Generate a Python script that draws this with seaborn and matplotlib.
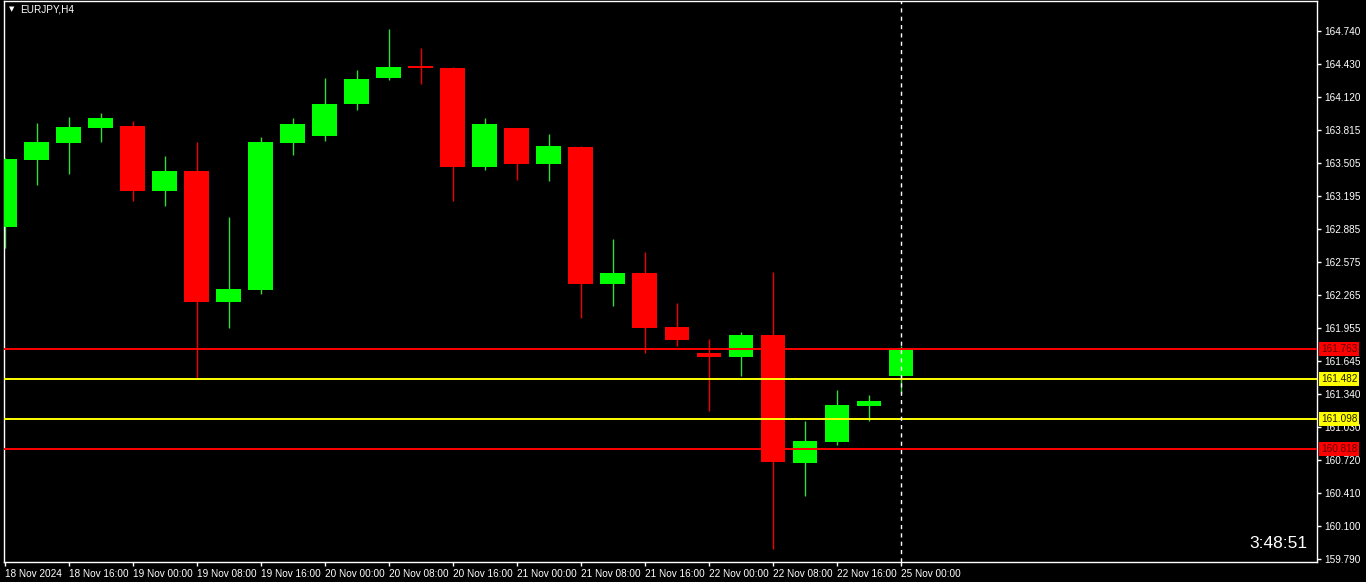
import matplotlib
matplotlib.use("Agg")
import matplotlib.pyplot as plt
import matplotlib.transforms as mtransforms
import seaborn as sns
import numpy as np
import pandas as pd

# EURJPY H4 candles, 18 Nov 08:00 .. 25 Nov 00:00
opens = [162.905, 163.531, 163.690, 163.831, 163.849, 163.243, 163.428, 162.202,
         162.312, 163.690, 163.756, 164.056, 164.299, 164.410, 164.393, 163.468,
         163.831, 163.496, 163.653, 162.371, 162.471, 161.965, 161.721, 161.684,
         161.890, 160.690, 160.887, 161.225, 161.506]
highs = [163.550, 163.878, 163.934, 163.971, 163.896, 163.568, 163.699, 162.996,
         163.746, 163.924, 164.299, 164.374, 164.759, 164.581, 164.400, 163.924,
         163.835, 163.774, 163.662, 162.790, 162.668, 162.190, 161.853, 161.918,
         162.481, 161.087, 161.374, 161.328, 161.787]
lows = [162.709, 163.296, 163.402, 163.699, 163.149, 163.102, 161.480, 161.959,
        162.277, 163.578, 163.709, 163.999, 164.281, 164.243, 163.146, 163.440,
        163.346, 163.337, 162.052, 162.165, 161.724, 161.790, 161.178, 161.506,
        159.884, 160.381, 160.859, 161.084, 161.346]
closes = [163.540, 163.699, 163.840, 163.924, 163.243, 163.428, 162.202, 162.321,
          163.699, 163.868, 164.056, 164.290, 164.403, 164.395, 163.468, 163.868,
          163.496, 163.662, 162.371, 162.471, 161.959, 161.846, 161.684, 161.890,
          160.699, 160.896, 161.234, 161.271, 161.759]

time_labels = ["18 Nov 2024", "18 Nov 16:00", "19 Nov 00:00", "19 Nov 08:00",
               "19 Nov 16:00", "20 Nov 00:00", "20 Nov 08:00", "20 Nov 16:00",
               "21 Nov 00:00", "21 Nov 08:00", "21 Nov 16:00", "22 Nov 00:00",
               "22 Nov 08:00", "22 Nov 16:00", "25 Nov 00:00"]

price_ticks = [164.740, 164.430, 164.120, 163.815, 163.505, 163.195, 162.885,
               162.575, 162.265, 161.955, 161.645, 161.340, 161.030, 160.720,
               160.410, 160.100, 159.790]

level_prices = [161.763, 161.482, 161.098, 160.818]
level_colors = ["#ff0000", "#ffff00", "#ffff00", "#ff0000"]
level_text = ["#600000", "#202000", "#202000", "#600000"]

sns.set_theme(style="dark", rc={"axes.facecolor": "black",
                                "figure.facecolor": "black",
                                "axes.edgecolor": "white",
                                "axes.grid": False})
plt.rcParams['font.family'] = ['Liberation Sans', 'DejaVu Sans']

fig = plt.figure(figsize=(13.66, 5.82), dpi=100)
ax = fig.add_axes([4 / 1366, 20 / 582, 1313 / 1366, 561 / 582])

df = pd.DataFrame({"o": opens, "h": highs, "l": lows, "c": closes})
df["up"] = df.c >= df.o
colors = np.where(df.up, "#00ff00", "#ff0000")
wick_colors = np.where(df.up, "#30dd30", "#ee0000")
body_low = np.minimum(df.o, df.c)
body_h = np.maximum((df.c - df.o).abs(), 0.012)

ax.vlines(df.index, df.l, df.h, colors=wick_colors, linewidth=1.0, zorder=2)
ax.bar(df.index, body_h, bottom=body_low, width=0.78, color=colors,
       linewidth=0, zorder=3)

# support / resistance levels
trans = mtransforms.blended_transform_factory(ax.transAxes, ax.transData)
for p, col, tc in zip(level_prices, level_colors, level_text):
    ax.axhline(p, color=col, linewidth=1.4, zorder=4)
    ax.text(1.003, p, f"{p:.3f}", transform=trans, color=tc, fontsize=7.2,
            va="center", ha="left", clip_on=False, zorder=10,
            bbox=dict(boxstyle="square,pad=0.2", fc=col, ec="none"))

# current bar marker
ax.axvline(len(df) - 1, color="white", linewidth=1, linestyle=(0, (3, 3)), zorder=5)

ax.set_xlim(-0.03, 41.0)
ax.set_ylim(159.762, 165.021)

ax.yaxis.tick_right()
ax.set_yticks(price_ticks)
ax.set_yticklabels([f"{v:.3f}" for v in price_ticks])
ax.set_xticks(range(0, len(df), 2))
ax.set_xticklabels(time_labels, ha="left")
ax.tick_params(axis="both", colors="white", labelcolor="white", labelsize=7.2,
               length=3, width=1, direction="out")
ax.tick_params(axis="x", pad=2, bottom=True)
ax.tick_params(axis="y", pad=2, right=True, left=False)
for s in ax.spines.values():
    s.set_color("white")
    s.set_linewidth(1)

fig.text(12 / 1366, 1 - 9 / 582, "\u25bc", color="white", fontsize=5,
         ha="center", va="center", family=["DejaVu Sans"])
fig.text(20 / 1366, 1 - 9 / 582, "EURJPY,H4", color="white", fontsize=7.2,
         ha="left", va="center")
fig.text(1307 / 1366, 1 - 543 / 582, "3:48:51", color="white", fontsize=12.5,
         ha="right", va="center")

fig.savefig("out.png", dpi=100, facecolor="black")
